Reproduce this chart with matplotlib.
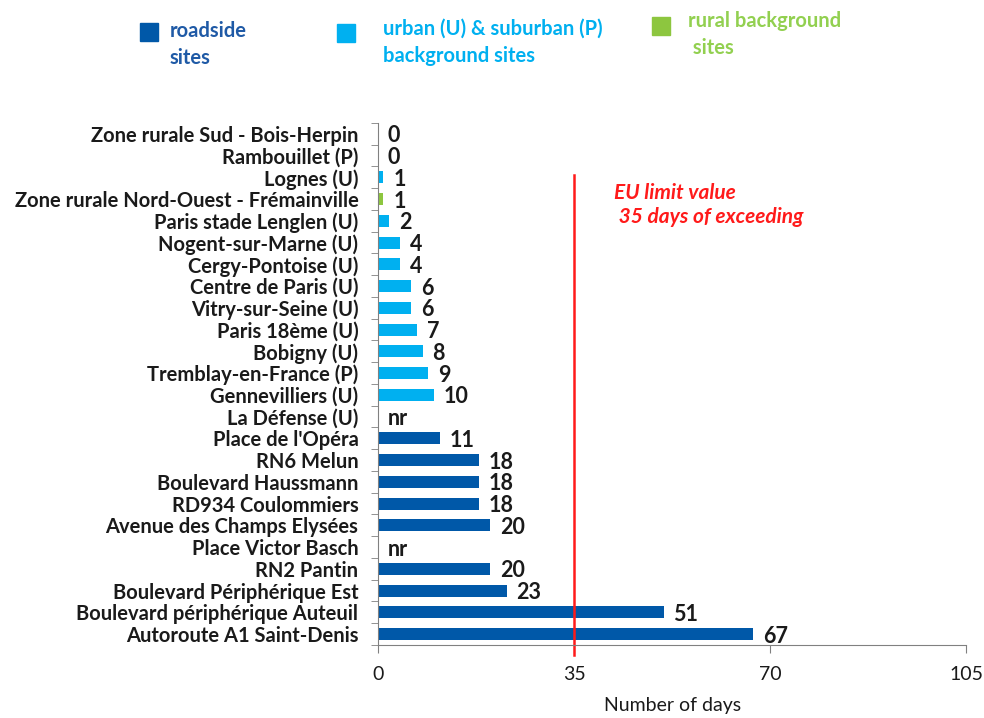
import matplotlib.pyplot as plt
from matplotlib.patches import Rectangle
import numpy as np

plt.rcParams['font.family'] = ['Lato', 'DejaVu Sans']

sites = ["Zone rurale Sud - Bois-Herpin", "Rambouillet (P)", "Lognes (U)",
         "Zone rurale Nord-Ouest - Frémainville", "Paris stade Lenglen (U)",
         "Nogent-sur-Marne (U)", "Cergy-Pontoise (U)", "Centre de Paris (U)",
         "Vitry-sur-Seine (U)", "Paris 18ème (U)", "Bobigny (U)",
         "Tremblay-en-France (P)", "Gennevilliers (U)", "La Défense (U)",
         "Place de l'Opéra", "RN6 Melun", "Boulevard Haussmann",
         "RD934 Coulommiers", "Avenue des Champs Elysées", "Place Victor Basch",
         "RN2 Pantin", "Boulevard Périphérique Est",
         "Boulevard périphérique Auteuil", "Autoroute A1 Saint-Denis"]
days = [0, 0, 1, 1, 2, 4, 4, 6, 6, 7, 8, 9, 10, None,
        11, 18, 18, 18, 20, None, 20, 23, 51, 67]
site_type = ["rural", "urban", "urban", "rural", "urban", "urban", "urban", "urban",
             "urban", "urban", "urban", "urban", "urban", "urban",
             "road", "road", "road", "road", "road", "road", "road", "road", "road", "road"]
limit = 35
xticks = [0, 35, 70, 105]

colors = {"road": "#0058A8", "urban": "#00B0F0", "rural": "#8DC63F"}
text_colors = {"road": "#1F5AA6", "urban": "#00B0F0", "rural": "#92D050"}

fig = plt.figure(figsize=(9.84, 7.18), dpi=100)
ax = fig.add_axes([0.384, 0.1017, 0.598, 0.727])

y = np.arange(len(sites))
vals = [d if d is not None else 0 for d in days]
ax.barh(y, vals, height=0.55, color=[colors[t] for t in site_type])

for yi, d in zip(y, days):
    label = "nr" if d is None else str(d)
    ax.annotate(label, (0 if d is None else d, yi), xytext=(7, -1.5),
                textcoords="offset points", va="center", ha="left",
                fontsize=15.5, fontweight="bold", color="#1a1a1a")

ax.set_ylim(len(sites) - 0.5, -0.5)
ax.set_xlim(0, 105)
ax.set_yticks(y)
ax.set_yticklabels(sites, fontsize=14.5, fontweight="bold", color="#1a1a1a")
ax.set_yticks(np.arange(len(sites) + 1) - 0.5, minor=True)
ax.tick_params(axis="y", which="major", length=0, pad=14)
ax.tick_params(axis="y", which="minor", length=5, color="#808080")
ax.set_xticks(xticks)
ax.set_xticklabels([str(t) for t in xticks], fontsize=14, color="#1a1a1a")
ax.tick_params(axis="x", length=6, color="#808080", pad=9)
ax.set_xlabel("Number of days", fontsize=14, color="#1a1a1a", labelpad=10)

for s in ["top", "right"]:
    ax.spines[s].set_visible(False)
for s in ["left", "bottom"]:
    ax.spines[s].set_color("#808080")

ax.plot([limit, limit], [0.90, -0.02], color="#FF1A1A", lw=1.8,
        transform=ax.get_xaxis_transform(), clip_on=False)
ax.text(0.402, 0.843, "EU limit value\n 35 days of exceeding", transform=ax.transAxes,
        color="#FF1A1A", fontsize=15, fontweight="bold", fontstyle="italic",
        va="center", ha="left", linespacing=1.3)

legend_items = [("road", "roadside\nsites", 140, 23, 170, 32),
                ("urban", "urban (U) & suburban (P)\nbackground sites", 337, 24, 383, 30),
                ("rural", "rural background\n sites", 652, 17, 688, 22)]
W, H = 984, 718
for key, txt, px, py, tx, ty in legend_items:
    fig.add_artist(Rectangle((px / W, 1 - (py + 18) / H), 18 / W, 18 / H,
                             transform=fig.transFigure, color=colors[key]))
    fig.text(tx / W, 1 - (ty - 11) / H, txt, color=text_colors[key],
             fontsize=14.5, fontweight="bold", va="top", ha="left", linespacing=1.45)

fig.savefig("out.png", dpi=100)
